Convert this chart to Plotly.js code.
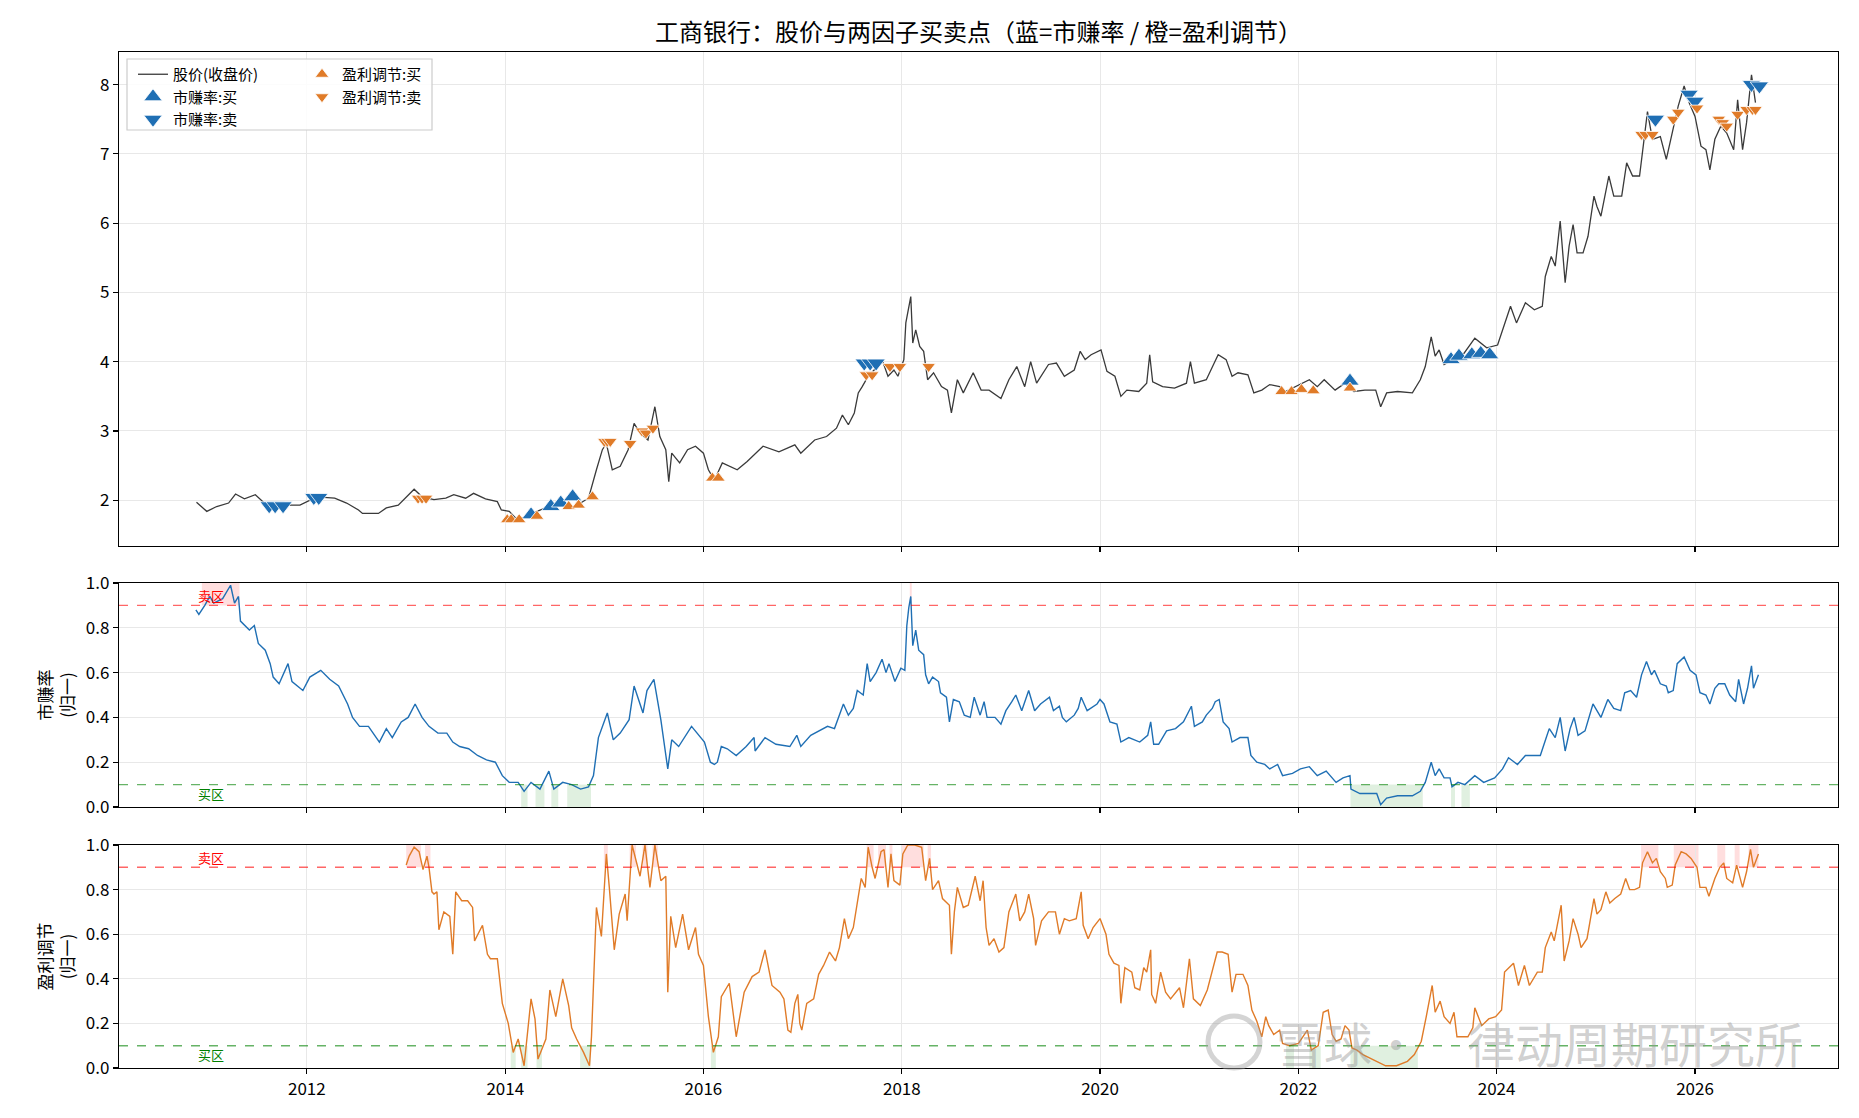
<!DOCTYPE html>
<html><head><meta charset="utf-8">
<script src="https://cdn.plot.ly/plotly-3.0.1.min.js"></script>
<style>html,body{margin:0;padding:0;background:#fff}#chart{width:1859px;height:1118px}</style>
</head><body><div id="chart"></div>
<script>
// ---- data (decimal years) ----
const priceX = [2010.886,2010.95,2010.99,2011.09,2011.21,2011.28,2011.37,2011.48,2011.57,2011.69,2011.81,2011.93,2012.00,2012.10,2012.28,2012.40,2012.52,2012.56,2012.72,2012.80,2012.92,2013.00,2013.08,2013.16,2013.28,2013.40,2013.48,2013.60,2013.68,2013.80,2013.92,2013.96,2014.04,2014.12,2014.20,2014.32,2014.44,2014.56,2014.68,2014.76,2014.84,2014.92,2014.98,2015.02,2015.08,2015.16,2015.24,2015.30,2015.36,2015.44,2015.51,2015.56,2015.62,2015.65,2015.68,2015.76,2015.84,2015.92,2016.00,2016.05,2016.11,2016.19,2016.34,2016.44,2016.60,2016.76,2016.92,2016.98,2017.12,2017.24,2017.34,2017.40,2017.46,2017.52,2017.56,2017.60,2017.66,2017.72,2017.80,2017.86,2017.92,2017.96,2018.02,2018.04,2018.07,2018.09,2018.11,2018.14,2018.18,2018.22,2018.26,2018.32,2018.40,2018.46,2018.50,2018.56,2018.62,2018.72,2018.80,2018.88,2019.00,2019.08,2019.16,2019.24,2019.30,2019.36,2019.48,2019.56,2019.64,2019.74,2019.80,2019.85,2019.91,2020.01,2020.07,2020.15,2020.21,2020.27,2020.39,2020.47,2020.50,2020.53,2020.63,2020.75,2020.87,2020.91,2020.95,2021.07,2021.15,2021.19,2021.27,2021.33,2021.39,2021.49,2021.55,2021.63,2021.71,2021.81,2021.87,2022.11,2022.19,2022.26,2022.37,2022.47,2022.56,2022.67,2022.78,2022.83,2022.89,2023.00,2023.15,2023.23,2023.28,2023.34,2023.38,2023.42,2023.47,2023.56,2023.67,2023.78,2023.90,2024.01,2024.05,2024.08,2024.14,2024.20,2024.29,2024.38,2024.46,2024.49,2024.55,2024.59,2024.64,2024.69,2024.73,2024.77,2024.81,2024.87,2024.92,2024.98,2025.01,2025.05,2025.09,2025.13,2025.18,2025.26,2025.31,2025.37,2025.44,2025.48,2025.52,2025.57,2025.65,2025.71,2025.78,2025.83,2025.89,2025.94,2026.00,2026.06,2026.11,2026.15,2026.20,2026.26,2026.32,2026.39,2026.43,2026.48,2026.52,2026.54,2026.57,2026.61];
const priceY = [1.97,1.89,1.84,1.91,1.96,2.09,2.02,2.08,1.96,1.91,1.93,1.93,1.98,2.05,2.03,1.96,1.86,1.81,1.81,1.89,1.93,2.05,2.16,2.05,2.01,2.03,2.08,2.03,2.10,2.02,1.98,1.86,1.84,1.72,1.76,1.84,1.91,1.98,2.05,1.96,2.03,2.44,2.73,2.82,2.44,2.49,2.73,3.11,2.97,2.87,3.35,2.92,2.73,2.27,2.68,2.54,2.73,2.78,2.68,2.44,2.29,2.54,2.44,2.56,2.78,2.70,2.80,2.68,2.87,2.92,3.04,3.23,3.09,3.26,3.55,3.64,3.79,3.88,4.03,3.79,3.88,3.79,4.03,4.56,4.80,4.94,4.27,4.46,4.22,4.15,3.74,3.84,3.64,3.59,3.26,3.74,3.55,3.84,3.59,3.59,3.47,3.74,3.93,3.64,4.00,3.69,3.96,3.98,3.79,3.88,4.15,4.03,4.10,4.17,3.86,3.79,3.50,3.59,3.57,3.69,4.10,3.71,3.64,3.62,3.69,4.00,3.69,3.74,3.98,4.10,4.03,3.79,3.84,3.81,3.55,3.59,3.67,3.64,3.57,3.74,3.64,3.74,3.59,3.69,3.57,3.59,3.59,3.35,3.55,3.57,3.55,3.74,3.93,4.36,4.08,4.17,3.96,4.03,4.12,4.34,4.20,4.24,4.41,4.56,4.80,4.56,4.85,4.75,4.80,5.23,5.52,5.38,6.03,5.14,5.67,5.98,5.57,5.57,5.81,6.39,6.24,6.10,6.41,6.68,6.39,6.39,6.87,6.68,6.68,7.11,7.61,7.21,7.25,6.92,7.35,7.69,7.98,7.74,7.54,7.11,7.06,6.77,7.21,7.40,7.30,7.06,7.78,7.06,7.45,7.76,8.14,7.74];

const mzX = [2010.88,2010.91,2010.97,2011.02,2011.06,2011.15,2011.23,2011.27,2011.31,2011.33,2011.42,2011.47,2011.51,2011.58,2011.63,2011.66,2011.72,2011.81,2011.85,2011.96,2012.03,2012.14,2012.23,2012.32,2012.41,2012.46,2012.53,2012.62,2012.73,2012.80,2012.86,2012.95,2013.02,2013.09,2013.16,2013.23,2013.32,2013.41,2013.47,2013.54,2013.63,2013.72,2013.81,2013.90,2013.97,2014.04,2014.13,2014.19,2014.26,2014.35,2014.44,2014.49,2014.58,2014.67,2014.76,2014.84,2014.89,2014.94,2015.03,2015.09,2015.16,2015.25,2015.30,2015.39,2015.43,2015.50,2015.57,2015.64,2015.68,2015.75,2015.88,2015.95,2016.01,2016.07,2016.11,2016.14,2016.18,2016.24,2016.33,2016.43,2016.51,2016.52,2016.62,2016.73,2016.87,2016.94,2016.98,2017.08,2017.17,2017.25,2017.32,2017.36,2017.41,2017.46,2017.51,2017.55,2017.61,2017.65,2017.68,2017.74,2017.80,2017.84,2017.87,2017.93,2017.99,2018.03,2018.05,2018.07,2018.09,2018.11,2018.14,2018.17,2018.22,2018.24,2018.27,2018.31,2018.37,2018.39,2018.45,2018.48,2018.52,2018.58,2018.63,2018.69,2018.73,2018.79,2018.83,2018.86,2018.94,2019.00,2019.05,2019.11,2019.15,2019.21,2019.28,2019.34,2019.40,2019.49,2019.53,2019.59,2019.62,2019.66,2019.74,2019.78,2019.81,2019.87,2019.93,2019.97,2020.00,2020.04,2020.10,2020.17,2020.21,2020.29,2020.40,2020.48,2020.51,2020.54,2020.59,2020.67,2020.76,2020.84,2020.92,2020.95,2021.03,2021.07,2021.13,2021.16,2021.20,2021.24,2021.30,2021.33,2021.41,2021.49,2021.52,2021.58,2021.66,2021.71,2021.79,2021.84,2021.94,2022.02,2022.11,2022.19,2022.28,2022.38,2022.45,2022.52,2022.53,2022.62,2022.79,2022.83,2022.89,2023.00,2023.15,2023.23,2023.28,2023.34,2023.38,2023.42,2023.47,2023.53,2023.55,2023.61,2023.68,2023.78,2023.87,2023.98,2024.06,2024.12,2024.21,2024.29,2024.36,2024.44,2024.50,2024.53,2024.59,2024.64,2024.69,2024.74,2024.78,2024.82,2024.89,2024.97,2025.01,2025.05,2025.12,2025.18,2025.25,2025.29,2025.35,2025.41,2025.46,2025.51,2025.56,2025.59,2025.65,2025.71,2025.73,2025.78,2025.82,2025.89,2025.95,2026.01,2026.05,2026.11,2026.15,2026.20,2026.24,2026.30,2026.35,2026.41,2026.44,2026.49,2026.53,2026.57,2026.59,2026.64];
const mzY = [0.88,0.86,0.90,0.94,0.91,0.93,0.99,0.91,0.94,0.83,0.79,0.81,0.73,0.70,0.64,0.58,0.55,0.64,0.56,0.52,0.58,0.61,0.57,0.54,0.46,0.40,0.36,0.36,0.29,0.35,0.31,0.38,0.40,0.46,0.40,0.36,0.33,0.33,0.29,0.27,0.26,0.23,0.21,0.20,0.14,0.11,0.11,0.07,0.11,0.08,0.16,0.08,0.11,0.10,0.08,0.09,0.14,0.31,0.42,0.30,0.33,0.39,0.54,0.42,0.52,0.57,0.39,0.17,0.30,0.27,0.36,0.32,0.29,0.20,0.19,0.20,0.27,0.26,0.23,0.27,0.31,0.25,0.31,0.28,0.27,0.32,0.27,0.32,0.34,0.36,0.35,0.40,0.46,0.41,0.44,0.52,0.50,0.64,0.56,0.60,0.66,0.60,0.64,0.56,0.62,0.61,0.81,0.89,0.94,0.72,0.79,0.70,0.68,0.59,0.55,0.58,0.56,0.51,0.49,0.38,0.48,0.47,0.41,0.40,0.49,0.41,0.47,0.40,0.40,0.37,0.43,0.47,0.50,0.43,0.52,0.43,0.46,0.49,0.43,0.45,0.40,0.38,0.41,0.44,0.49,0.43,0.45,0.46,0.48,0.46,0.38,0.37,0.29,0.31,0.29,0.32,0.38,0.28,0.28,0.34,0.35,0.38,0.45,0.36,0.38,0.41,0.44,0.47,0.48,0.38,0.35,0.29,0.31,0.31,0.23,0.20,0.19,0.17,0.19,0.14,0.15,0.17,0.18,0.14,0.16,0.11,0.13,0.14,0.08,0.06,0.06,0.01,0.04,0.05,0.05,0.07,0.11,0.20,0.14,0.17,0.13,0.13,0.09,0.11,0.10,0.14,0.11,0.13,0.17,0.22,0.19,0.23,0.23,0.23,0.31,0.35,0.31,0.40,0.25,0.35,0.40,0.32,0.34,0.46,0.43,0.40,0.48,0.44,0.43,0.51,0.52,0.49,0.59,0.65,0.59,0.61,0.55,0.54,0.51,0.52,0.64,0.67,0.61,0.59,0.51,0.50,0.46,0.53,0.55,0.55,0.50,0.47,0.57,0.46,0.53,0.63,0.53,0.59];

const ylX = [2013.00,2013.03,2013.08,2013.13,2013.17,2013.21,2013.23,2013.26,2013.28,2013.31,2013.33,2013.38,2013.44,2013.47,2013.50,2013.56,2013.62,2013.67,2013.69,2013.77,2013.82,2013.85,2013.92,2013.97,2014.03,2014.08,2014.13,2014.19,2014.26,2014.30,2014.33,2014.41,2014.45,2014.51,2014.58,2014.64,2014.67,2014.72,2014.79,2014.85,2014.87,2014.92,2014.97,2015.02,2015.05,2015.10,2015.15,2015.21,2015.23,2015.28,2015.36,2015.41,2015.46,2015.51,2015.57,2015.62,2015.64,2015.67,2015.72,2015.79,2015.85,2015.92,2015.95,2016.00,2016.05,2016.10,2016.15,2016.18,2016.26,2016.33,2016.41,2016.49,2016.56,2016.62,2016.69,2016.77,2016.81,2016.85,2016.88,2016.92,2016.95,2016.97,2016.99,2017.04,2017.11,2017.16,2017.21,2017.27,2017.33,2017.37,2017.42,2017.46,2017.51,2017.56,2017.59,2017.63,2017.66,2017.70,2017.73,2017.79,2017.82,2017.86,2017.89,2017.92,2017.98,2018.01,2018.06,2018.13,2018.20,2018.24,2018.28,2018.31,2018.37,2018.41,2018.48,2018.50,2018.53,2018.56,2018.62,2018.67,2018.74,2018.79,2018.82,2018.85,2018.88,2018.93,2018.98,2019.03,2019.08,2019.15,2019.19,2019.24,2019.28,2019.33,2019.35,2019.41,2019.48,2019.55,2019.59,2019.64,2019.69,2019.76,2019.81,2019.83,2019.88,2019.93,2020.00,2020.06,2020.09,2020.14,2020.19,2020.21,2020.25,2020.32,2020.35,2020.40,2020.44,2020.47,2020.51,2020.52,2020.56,2020.61,2020.66,2020.71,2020.80,2020.84,2020.90,2020.94,2021.01,2021.08,2021.13,2021.18,2021.23,2021.29,2021.33,2021.37,2021.44,2021.49,2021.53,2021.58,2021.63,2021.67,2021.70,2021.75,2021.81,2021.84,2021.91,2022.00,2022.09,2022.13,2022.20,2022.25,2022.30,2022.34,2022.38,2022.43,2022.47,2022.51,2022.54,2022.59,2022.65,2022.74,2022.88,2022.99,2023.10,2023.17,2023.24,2023.29,2023.35,2023.38,2023.43,2023.47,2023.53,2023.57,2023.60,2023.65,2023.71,2023.76,2023.78,2023.85,2023.92,2023.99,2024.05,2024.08,2024.14,2024.17,2024.22,2024.28,2024.33,2024.41,2024.46,2024.49,2024.55,2024.58,2024.65,2024.68,2024.73,2024.77,2024.82,2024.85,2024.91,2024.94,2024.98,2025.01,2025.05,2025.10,2025.14,2025.19,2025.25,2025.30,2025.34,2025.39,2025.44,2025.47,2025.52,2025.57,2025.61,2025.65,2025.70,2025.72,2025.77,2025.80,2025.86,2025.91,2025.96,2026.02,2026.05,2026.11,2026.14,2026.20,2026.25,2026.29,2026.32,2026.38,2026.42,2026.48,2026.52,2026.56,2026.59,2026.64];
const ylY = [0.91,0.95,0.99,0.97,0.89,0.95,0.90,0.79,0.78,0.79,0.62,0.70,0.68,0.51,0.79,0.75,0.75,0.72,0.57,0.64,0.51,0.49,0.49,0.29,0.20,0.07,0.13,0.01,0.31,0.22,0.04,0.13,0.35,0.23,0.40,0.28,0.18,0.13,0.07,0.01,0.14,0.72,0.59,0.96,0.81,0.53,0.69,0.78,0.66,1.00,0.86,1.00,0.81,1.00,0.84,0.86,0.34,0.68,0.54,0.69,0.53,0.63,0.51,0.46,0.23,0.07,0.14,0.32,0.38,0.14,0.34,0.41,0.43,0.53,0.37,0.34,0.31,0.17,0.16,0.29,0.33,0.20,0.17,0.29,0.31,0.42,0.46,0.52,0.48,0.54,0.67,0.58,0.63,0.76,0.85,0.81,0.99,0.90,0.85,0.97,0.98,0.81,0.96,0.84,0.82,0.96,1.00,1.00,0.99,0.84,0.94,0.80,0.84,0.76,0.73,0.51,0.70,0.81,0.72,0.73,0.86,0.75,0.84,0.63,0.55,0.58,0.52,0.54,0.70,0.78,0.66,0.70,0.78,0.67,0.55,0.66,0.70,0.70,0.60,0.67,0.66,0.67,0.79,0.64,0.58,0.63,0.67,0.60,0.51,0.47,0.46,0.29,0.45,0.43,0.36,0.35,0.45,0.43,0.53,0.33,0.29,0.43,0.34,0.31,0.36,0.27,0.49,0.31,0.28,0.35,0.43,0.52,0.52,0.51,0.34,0.42,0.42,0.37,0.26,0.21,0.14,0.23,0.19,0.15,0.17,0.11,0.10,0.11,0.17,0.08,0.10,0.25,0.26,0.15,0.12,0.13,0.19,0.17,0.09,0.08,0.06,0.04,0.01,0.01,0.03,0.06,0.12,0.23,0.37,0.25,0.30,0.23,0.20,0.25,0.14,0.14,0.14,0.18,0.27,0.19,0.22,0.23,0.26,0.43,0.46,0.47,0.37,0.46,0.37,0.43,0.43,0.54,0.61,0.57,0.73,0.48,0.57,0.67,0.60,0.54,0.58,0.66,0.76,0.69,0.71,0.79,0.74,0.76,0.78,0.85,0.80,0.80,0.81,0.92,0.97,0.92,0.94,0.88,0.85,0.81,0.82,0.91,0.97,0.96,0.94,0.90,0.81,0.81,0.77,0.85,0.90,0.92,0.85,0.83,0.91,0.81,0.88,0.98,0.90,0.96];

// signals (date, close price)
const mzBuyX  = [2014.26,2014.46,2014.56,2014.68,2022.52,2023.54,2023.62,2023.75,2023.84,2023.93];
const mzBuyY  = [1.79,1.91,1.96,2.05,3.72,4.03,4.08,4.10,4.12,4.10];
const mzSellX = [2011.62,2011.68,2011.76,2012.07,2012.12,2017.62,2017.68,2017.74,2025.60,2025.94,2026.00,2026.57,2026.65];
const mzSellY = [1.92,1.92,1.92,2.04,2.04,3.98,3.98,3.98,7.50,7.86,7.76,8.00,7.98];
const ylBuyX  = [2014.02,2014.06,2014.14,2014.32,2014.64,2014.74,2014.88,2016.09,2016.15,2021.83,2021.93,2022.03,2022.15,2022.52];
const ylBuyY  = [1.72,1.72,1.72,1.77,1.91,1.93,2.05,2.32,2.32,3.57,3.57,3.60,3.58,3.62];
const ylSellX = [2013.12,2013.16,2013.20,2015.00,2015.03,2015.06,2015.26,2015.38,2015.42,2015.49,2017.64,2017.70,2017.88,2017.98,2018.27,2025.46,2025.50,2025.57,2025.78,2025.83,2026.02,2026.24,2026.28,2026.32,2026.43,2026.52,2026.58,2026.61];
const ylSellY = [2.03,2.03,2.03,2.85,2.85,2.85,2.82,3.00,2.97,3.04,3.81,3.81,3.93,3.93,3.93,7.28,7.28,7.28,7.50,7.60,7.66,7.50,7.45,7.40,7.57,7.64,7.64,7.64];

const SELL_TH = 0.9, BUY_TH = 0.1;
const xTickYears = [2012,2014,2016,2018,2020,2022,2024,2026];

// ---- helpers ----
function yd(y){const yr=Math.floor(y);const a=Date.UTC(yr,0,1),b=Date.UTC(yr+1,0,1);return new Date(a+(y-yr)*(b-a)).toISOString().slice(0,19).replace('T',' ');}
const D = a => a.map(yd);

function zoneShapes(xs, ys, test, xref, yref, y0, y1, color){
  const out=[]; let cur=null;
  for(let i=0;i<xs.length;i++){
    if(test(ys[i])){
      const l = i>0 ? (xs[i-1]+xs[i])/2 : xs[i];
      const r = i<xs.length-1 ? (xs[i]+xs[i+1])/2 : xs[i];
      if(cur && Math.abs(cur[1]-l)<1e-9) cur[1]=r; else { if(cur) out.push(cur); cur=[l,r]; }
    } else if(cur){ out.push(cur); cur=null; }
  }
  if(cur) out.push(cur);
  return out.map(s=>({type:'rect',xref:xref,yref:yref,x0:yd(s[0]),x1:yd(s[1]),y0:y0,y1:y1,
    fillcolor:color,line:{width:0},layer:'below'}));
}

const BLUE='#1f6fb4', ORANGE='#e07b28';
const FONT='"Noto Sans CJK SC", "Noto Sans", sans-serif';

const traces = [
  {x:D(priceX),y:priceY,type:'scatter',mode:'lines',name:'股价(收盘价)',line:{color:'#3a3a3a',width:1.3},xaxis:'x',yaxis:'y',legend:'legend',hoverinfo:'skip'},
  {x:D(mzBuyX),y:mzBuyY,type:'scatter',mode:'markers',name:'市赚率:买',marker:{symbol:'triangle-up',size:16,color:BLUE,line:{color:'#ffffff',width:0.8}},xaxis:'x',yaxis:'y',legend:'legend'},
  {x:D(mzSellX),y:mzSellY,type:'scatter',mode:'markers',name:'市赚率:卖',marker:{symbol:'triangle-down',size:16,color:BLUE,line:{color:'#ffffff',width:0.8}},xaxis:'x',yaxis:'y',legend:'legend'},
  {x:D(ylBuyX),y:ylBuyY,type:'scatter',mode:'markers',name:'盈利调节:买',marker:{symbol:'triangle-up',size:12,color:ORANGE,line:{color:'#ffffff',width:0.8}},xaxis:'x',yaxis:'y',legend:'legend2'},
  {x:D(ylSellX),y:ylSellY,type:'scatter',mode:'markers',name:'盈利调节:卖',marker:{symbol:'triangle-down',size:12,color:ORANGE,line:{color:'#ffffff',width:0.8}},xaxis:'x',yaxis:'y',legend:'legend2'},
  {x:D(mzX),y:mzY,type:'scatter',mode:'lines',name:'市赚率',line:{color:BLUE,width:1.4},xaxis:'x2',yaxis:'y2',showlegend:false},
  {x:D(ylX),y:ylY,type:'scatter',mode:'lines',name:'盈利调节',line:{color:ORANGE,width:1.4},xaxis:'x3',yaxis:'y3',showlegend:false}
];

const W=1859,H=1118, L=119, R=1859-1838, T=52, B=1118-1068;
const plotW = W-L-R, plotH = H-T-B;
const dom = (top,bot)=>[(1068-bot)/plotH,(1068-top)/plotH];
const px = x=>(x-L)/plotW, py = y=>(1068-y)/plotH;

const xRange=[yd(2010.104),yd(2027.443)];
const tickV = xTickYears.map(y=>yd(y)), tickT = xTickYears.map(String);
const axisBase = {showline:true,linecolor:'#000',linewidth:1.2,mirror:true,ticks:'outside',ticklen:5,tickwidth:1.1,tickcolor:'#000',
  showgrid:true,gridcolor:'#e8e8e8',gridwidth:1,zeroline:false,tickfont:{family:FONT,size:17,color:'#000'}};
const xBase = Object.assign({},axisBase,{type:'date',range:xRange,tickvals:tickV,ticktext:tickT});

const shapes = [
  {type:'line',xref:'x2 domain',yref:'y2',x0:0,x1:1,y0:SELL_TH,y1:SELL_TH,line:{color:'rgba(255,0,0,0.6)',width:1.4,dash:'dash'}},
  {type:'line',xref:'x2 domain',yref:'y2',x0:0,x1:1,y0:BUY_TH,y1:BUY_TH,line:{color:'rgba(0,128,0,0.6)',width:1.4,dash:'dash'}},
  {type:'line',xref:'x3 domain',yref:'y3',x0:0,x1:1,y0:SELL_TH,y1:SELL_TH,line:{color:'rgba(255,0,0,0.6)',width:1.4,dash:'dash'}},
  {type:'line',xref:'x3 domain',yref:'y3',x0:0,x1:1,y0:BUY_TH,y1:BUY_TH,line:{color:'rgba(0,128,0,0.6)',width:1.4,dash:'dash'}},
  // legend box
  {type:'rect',xref:'paper',yref:'paper',x0:px(127),x1:px(432),y0:py(130),y1:py(59),
   line:{color:'#cccccc',width:1.2},fillcolor:'rgba(255,255,255,0.85)',layer:'above'},
  // watermark logo ring
  {type:'circle',xref:'paper',yref:'paper',x0:px(1208),x1:px(1260),y0:py(1068),y1:py(1016),
   line:{color:'rgba(160,160,160,0.45)',width:5},fillcolor:'rgba(0,0,0,0)',layer:'above'}
].concat(
  zoneShapes(mzX,mzY,v=>v>=SELL_TH,'x2','y2',SELL_TH,1,'rgba(255,0,0,0.13)'),
  zoneShapes(mzX,mzY,v=>v<=BUY_TH,'x2','y2',0,BUY_TH,'rgba(0,128,0,0.12)'),
  zoneShapes(ylX,ylY,v=>v>=SELL_TH,'x3','y3',SELL_TH,1,'rgba(255,0,0,0.13)'),
  zoneShapes(ylX,ylY,v=>v<=BUY_TH,'x3','y3',0,BUY_TH,'rgba(0,128,0,0.12)')
);

const x0 = yd(priceX[0]);
const wmFont = {family:FONT,size:48,color:'rgba(150,150,150,0.45)'};
const annotations = [
  {xref:'x2',yref:'y2',x:x0,y:0.945,text:'卖区',showarrow:false,xanchor:'left',yanchor:'middle',font:{family:FONT,size:13,color:'#ff0000'}},
  {xref:'x2',yref:'y2',x:x0,y:0.06,text:'买区',showarrow:false,xanchor:'left',yanchor:'middle',font:{family:FONT,size:13,color:'#008000'}},
  {xref:'x3',yref:'y3',x:x0,y:0.945,text:'卖区',showarrow:false,xanchor:'left',yanchor:'middle',font:{family:FONT,size:13,color:'#ff0000'}},
  {xref:'x3',yref:'y3',x:x0,y:0.06,text:'买区',showarrow:false,xanchor:'left',yanchor:'middle',font:{family:FONT,size:13,color:'#008000'}},
  {xref:'paper',yref:'paper',x:px(1274),y:py(1042),text:'雪球·',showarrow:false,xanchor:'left',yanchor:'middle',font:wmFont},
  {xref:'paper',yref:'paper',x:px(1805),y:py(1042),text:'律动周期研究所',showarrow:false,xanchor:'right',yanchor:'middle',font:wmFont}
];

const legFont = {family:FONT,size:15,color:'#000'};
const layout = {
  width:W,height:H,margin:{l:L,r:R,t:T,b:B},paper_bgcolor:'#fff',plot_bgcolor:'#fff',
  font:{family:FONT,color:'#000'},
  title:{text:'工商银行：股价与两因子买卖点（蓝=市赚率 / 橙=盈利调节）',x:0.5,xref:'paper',y:1-33/H,yanchor:'middle',font:{family:FONT,size:24,color:'#000'}},
  xaxis:Object.assign({},xBase,{anchor:'y',showticklabels:false}),
  xaxis2:Object.assign({},xBase,{anchor:'y2',matches:'x',showticklabels:false}),
  xaxis3:Object.assign({},xBase,{anchor:'y3',matches:'x'}),
  yaxis:Object.assign({},axisBase,{domain:dom(52,546),range:[1.34,8.47],tickvals:[2,3,4,5,6,7,8],anchor:'x'}),
  yaxis2:Object.assign({},axisBase,{domain:dom(583,807),range:[0,1],tickvals:[0,0.2,0.4,0.6,0.8,1.0],ticktext:['0.0','0.2','0.4','0.6','0.8','1.0'],anchor:'x2',
    title:{text:'市赚率<br>(归一)',font:{family:FONT,size:17,color:'#000'},standoff:6}}),
  yaxis3:Object.assign({},axisBase,{domain:dom(845,1068),range:[0,1],tickvals:[0,0.2,0.4,0.6,0.8,1.0],ticktext:['0.0','0.2','0.4','0.6','0.8','1.0'],anchor:'x3',
    title:{text:'盈利调节<br>(归一)',font:{family:FONT,size:17,color:'#000'},standoff:6}}),
  legend:{x:px(133),y:py(58),xanchor:'left',yanchor:'top',bgcolor:'rgba(0,0,0,0)',borderwidth:0,font:legFont,tracegroupgap:0,itemwidth:30},
  legend2:{x:px(302),y:py(58),xanchor:'left',yanchor:'top',bgcolor:'rgba(0,0,0,0)',borderwidth:0,font:legFont,tracegroupgap:0,itemwidth:30},
  shapes:shapes,annotations:annotations,hovermode:false
};
Plotly.newPlot('chart',traces,layout,{staticPlot:true,displayModeBar:false});
</script></body></html>
